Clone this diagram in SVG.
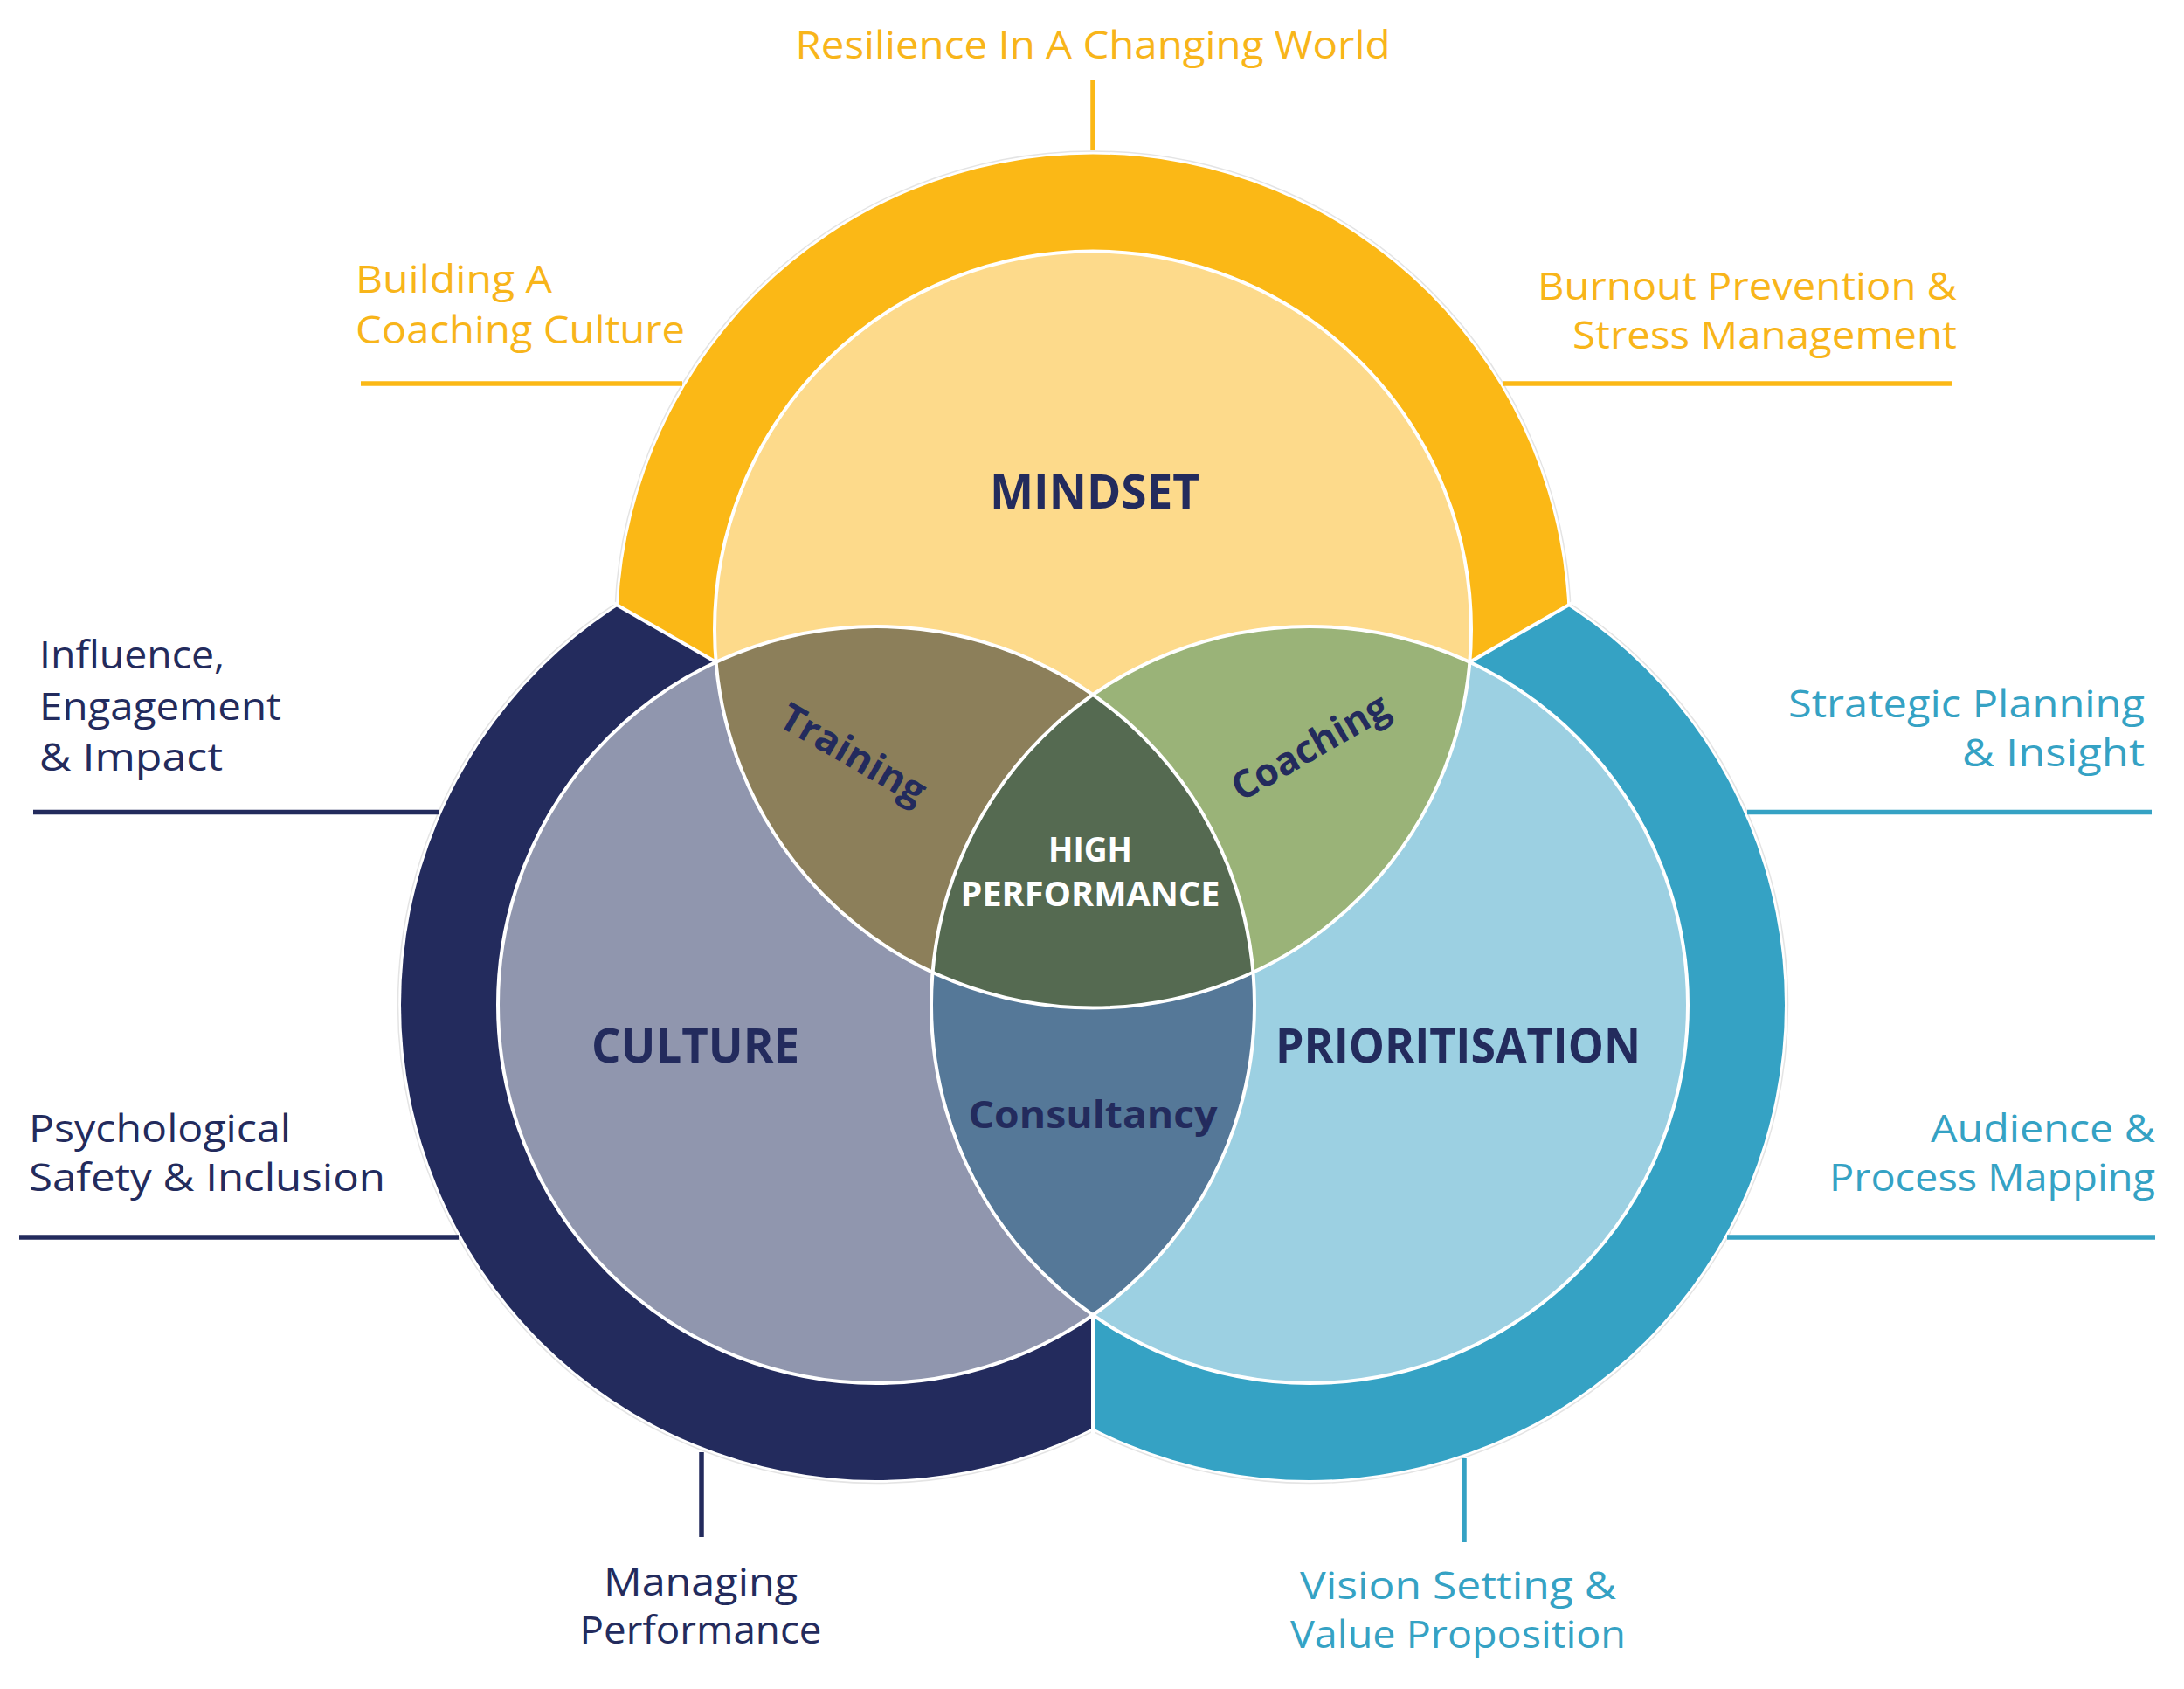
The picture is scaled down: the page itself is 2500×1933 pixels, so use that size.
<svg xmlns="http://www.w3.org/2000/svg" width="2500" height="1933" viewBox="0 0 2500 1933">
<defs>
<style>
.lbl{font-family:"Open Sans","Noto Sans","Liberation Sans",sans-serif;font-size:44px;}
.yel{fill:#F8B51A;}
.nav{fill:#232B5D;}
.blu{fill:#35A2C4;}
.big{font-family:"Open Sans","Noto Sans","Liberation Sans",sans-serif;font-weight:700;fill:#232B5D;}
.wht{fill:#FFFFFF;}
.edge{fill:none;stroke:#E4E4E4;stroke-width:1.5;}
.sep{stroke:#FFFFFF;stroke-width:4;}
.ring-outline{fill:none;stroke:#FFFFFF;stroke-width:4;}
.lead{stroke-width:5.5;fill:none;}
</style>
<clipPath id="cellM"><polygon points="1251,1006.8 -48,256.8 -48,-100 2550,-100 2550,256.8"/></clipPath>
<clipPath id="cellC"><polygon points="1251,1006.8 -48,256.8 -48,2100 1251,2100"/></clipPath>
<clipPath id="cellP"><polygon points="1251,1006.8 2550,256.8 2550,2100 1251,2100"/></clipPath>
<clipPath id="cM"><circle cx="1251" cy="720.5" r="433"/></clipPath>
<clipPath id="cC"><circle cx="1003" cy="1150" r="433"/></clipPath>
<clipPath id="cP"><circle cx="1499" cy="1150" r="433"/></clipPath>
</defs>
<rect width="2500" height="1933" fill="#FFFFFF"/>

<g id="outer-rings">
<circle class="edge" cx="1251" cy="720.5" r="547.5" clip-path="url(#cellM)"/>
<circle class="edge" cx="1003" cy="1150" r="547.5" clip-path="url(#cellC)"/>
<circle class="edge" cx="1499" cy="1150" r="547.5" clip-path="url(#cellP)"/>
<circle cx="1251" cy="720.5" r="544" fill="#FBB816" clip-path="url(#cellM)"/>
<circle cx="1003" cy="1150" r="544" fill="#232B5D" clip-path="url(#cellC)"/>
<circle cx="1499" cy="1150" r="544" fill="#35A2C4" clip-path="url(#cellP)"/>
<line class="sep" x1="819.6" y1="757.7" x2="700" y2="688.7"/>
<line class="sep" x1="1682.4" y1="757.7" x2="1802" y2="688.7"/>
<line class="sep" x1="1251" y1="1505" x2="1251" y2="1640"/>
</g>

<g id="mindset"><circle cx="1251" cy="720.5" r="433" fill="#FDDA8B"/></g>
<g id="culture"><circle cx="1003" cy="1150" r="433" fill="#9096AE"/></g>
<g id="prioritisation"><circle cx="1499" cy="1150" r="433" fill="#9CD0E2"/></g>
<g id="training"><g clip-path="url(#cM)"><circle cx="1003" cy="1150" r="433" fill="#8C7F5A"/></g></g>
<g id="coaching"><g clip-path="url(#cM)"><circle cx="1499" cy="1150" r="433" fill="#9AB378"/></g></g>
<g id="consultancy"><g clip-path="url(#cC)"><circle cx="1499" cy="1150" r="433" fill="#557898"/></g></g>
<g id="high-performance"><g clip-path="url(#cM)"><g clip-path="url(#cC)"><circle cx="1499" cy="1150" r="433" fill="#556A51"/></g></g></g>

<g id="circle-outlines">
<circle class="ring-outline" cx="1251" cy="720.5" r="433"/>
<circle class="ring-outline" cx="1003" cy="1150" r="433"/>
<circle class="ring-outline" cx="1499" cy="1150" r="433"/>
</g>

<g id="inner-labels">
<text class="big" x="1253" y="582" font-size="53" text-anchor="middle" textLength="240" lengthAdjust="spacingAndGlyphs">MINDSET</text>
<text class="big" x="796" y="1216" font-size="53" text-anchor="middle" textLength="238" lengthAdjust="spacingAndGlyphs">CULTURE</text>
<text class="big" x="1669" y="1216" font-size="53" text-anchor="middle" textLength="418" lengthAdjust="spacingAndGlyphs">PRIORITISATION</text>
<text class="big wht" x="1248" y="986" font-size="39" text-anchor="middle" textLength="96" lengthAdjust="spacingAndGlyphs">HIGH</text>
<text class="big wht" x="1248" y="1037" font-size="39" text-anchor="middle" textLength="297" lengthAdjust="spacingAndGlyphs">PERFORMANCE</text>
<text class="big" x="1251" y="1291" font-size="43" text-anchor="middle" textLength="285" lengthAdjust="spacingAndGlyphs">Consultancy</text>
<text class="big" transform="translate(976,864) rotate(30)" x="0" y="14" font-size="44" text-anchor="middle" textLength="185" lengthAdjust="spacingAndGlyphs">Training</text>
<text class="big" transform="translate(1500,856) rotate(-30)" x="0" y="14" font-size="44" text-anchor="middle" textLength="200" lengthAdjust="spacingAndGlyphs">Coaching</text>
</g>

<g id="connectors">
<line class="lead" stroke="#FBB816" x1="1251" y1="92" x2="1251" y2="172"/>
<line class="lead" stroke="#FBB816" x1="413" y1="439" x2="781" y2="439"/>
<line class="lead" stroke="#FBB816" x1="1721" y1="439" x2="2235" y2="439"/>
<line class="lead" stroke="#232B5D" x1="38" y1="929.5" x2="502" y2="929.5"/>
<line class="lead" stroke="#232B5D" x1="22" y1="1416" x2="525" y2="1416"/>
<line class="lead" stroke="#35A2C4" x1="2000" y1="929.5" x2="2463" y2="929.5"/>
<line class="lead" stroke="#35A2C4" x1="1977" y1="1416" x2="2467" y2="1416"/>
<line class="lead" stroke="#232B5D" x1="803" y1="1662" x2="803" y2="1759"/>
<line class="lead" stroke="#35A2C4" x1="1676" y1="1669" x2="1676" y2="1765"/>
</g>

<g id="label-resilience">
<text class="lbl yel" x="1251" y="67" text-anchor="middle" textLength="681" lengthAdjust="spacingAndGlyphs">Resilience In A Changing World</text>
</g>
<g id="label-coaching-culture">
<text class="lbl yel" x="407" y="335" textLength="225" lengthAdjust="spacingAndGlyphs">Building A</text>
<text class="lbl yel" x="407" y="393" textLength="377" lengthAdjust="spacingAndGlyphs">Coaching Culture</text>
</g>
<g id="label-burnout">
<text class="lbl yel" x="2240" y="343" text-anchor="end" textLength="480" lengthAdjust="spacingAndGlyphs">Burnout Prevention &amp;</text>
<text class="lbl yel" x="2240" y="399" text-anchor="end" textLength="440" lengthAdjust="spacingAndGlyphs">Stress Management</text>
</g>
<g id="label-influence">
<text class="lbl nav" x="45" y="765" textLength="212" lengthAdjust="spacingAndGlyphs">Influence,</text>
<text class="lbl nav" x="45" y="824" textLength="277" lengthAdjust="spacingAndGlyphs">Engagement</text>
<text class="lbl nav" x="45" y="882" textLength="210" lengthAdjust="spacingAndGlyphs">&amp; Impact</text>
</g>
<g id="label-psych-safety">
<text class="lbl nav" x="33" y="1307" textLength="300" lengthAdjust="spacingAndGlyphs">Psychological</text>
<text class="lbl nav" x="33" y="1363" textLength="408" lengthAdjust="spacingAndGlyphs">Safety &amp; Inclusion</text>
</g>
<g id="label-strategic">
<text class="lbl blu" x="2455" y="821" text-anchor="end" textLength="408" lengthAdjust="spacingAndGlyphs">Strategic Planning</text>
<text class="lbl blu" x="2455" y="877" text-anchor="end" textLength="209" lengthAdjust="spacingAndGlyphs">&amp; Insight</text>
</g>
<g id="label-audience">
<text class="lbl blu" x="2467" y="1307" text-anchor="end" textLength="257" lengthAdjust="spacingAndGlyphs">Audience &amp;</text>
<text class="lbl blu" x="2467" y="1363" text-anchor="end" textLength="373" lengthAdjust="spacingAndGlyphs">Process Mapping</text>
</g>
<g id="label-managing">
<text class="lbl nav" x="802" y="1826" text-anchor="middle" textLength="222" lengthAdjust="spacingAndGlyphs">Managing</text>
<text class="lbl nav" x="802" y="1881" text-anchor="middle" textLength="277" lengthAdjust="spacingAndGlyphs">Performance</text>
</g>
<g id="label-vision">
<text class="lbl blu" x="1669" y="1830" text-anchor="middle" textLength="362" lengthAdjust="spacingAndGlyphs">Vision Setting &amp;</text>
<text class="lbl blu" x="1669" y="1886" text-anchor="middle" textLength="384" lengthAdjust="spacingAndGlyphs">Value Proposition</text>
</g>
</svg>
